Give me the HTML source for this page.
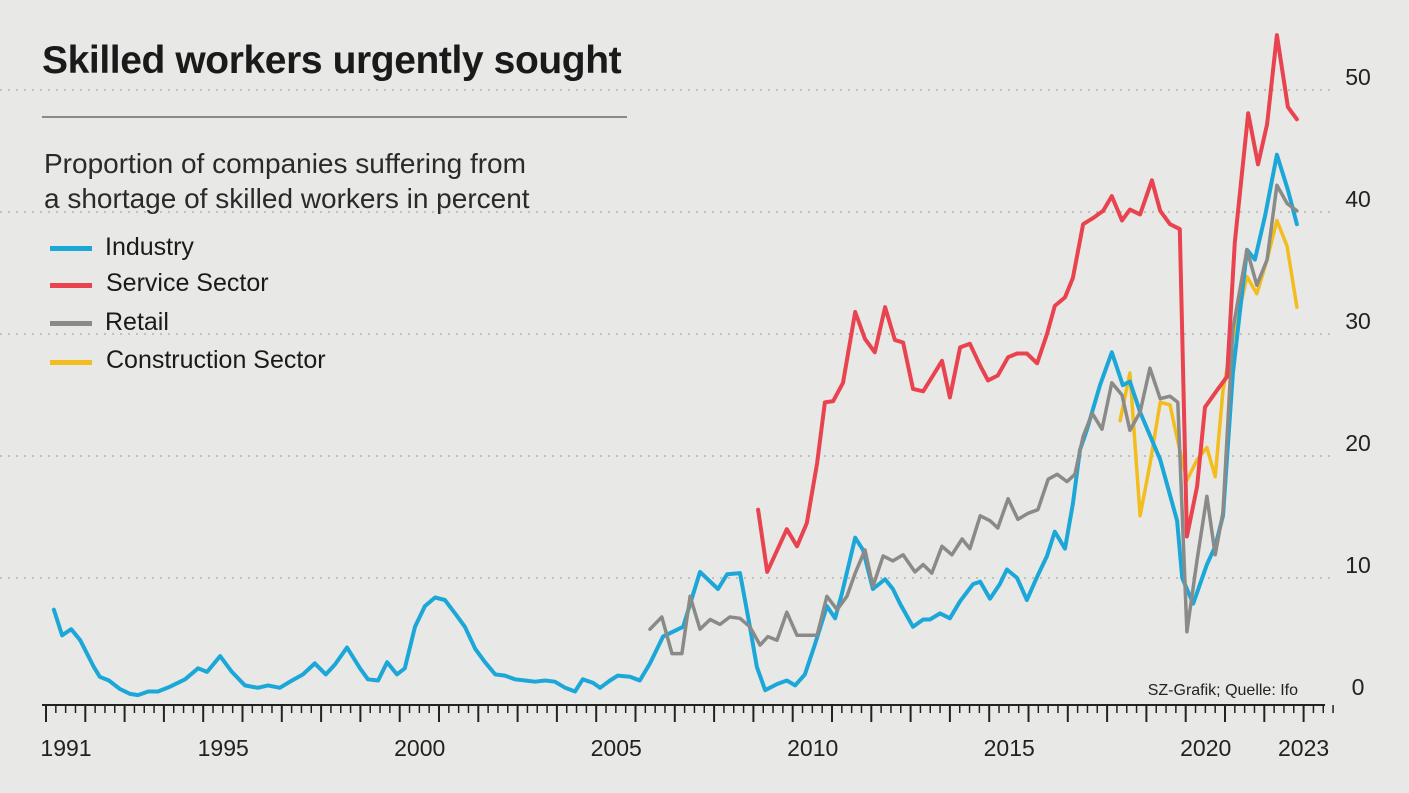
<!DOCTYPE html>
<html><head><meta charset="utf-8">
<style>
html,body{margin:0;padding:0;}
body{width:1409px;height:793px;background:#e8e8e6;overflow:hidden;position:relative;font-family:"Liberation Sans Narrow","Liberation Sans",sans-serif;color:#1a1a1a;}
.t{position:absolute;white-space:nowrap;}
svg{position:absolute;left:0;top:0;}
</style></head>
<body>
<div class="t" style="left:42px;top:39px;font-size:39px;font-weight:bold;letter-spacing:-0.4px;">Skilled workers urgently sought</div>
<div style="position:absolute;left:42px;top:116px;width:585px;height:2px;background:#8a8a8a;"></div>
<div class="t" style="left:44px;top:146px;font-size:28px;line-height:35px;color:#2a2a2a;">Proportion of companies suffering from<br>a shortage of skilled workers in percent</div>
<div>
<div><div style="position:absolute;left:50px;top:246px;width:42px;height:5px;background:#1ba7d8;"></div><div class="t" style="left:105px;top:233px;font-size:25px;">Industry</div></div>
<div><div style="position:absolute;left:50px;top:283px;width:42px;height:5px;background:#e8434f;"></div><div class="t" style="left:106px;top:269px;font-size:25px;">Service Sector</div></div>
<div><div style="position:absolute;left:50px;top:321px;width:42px;height:5px;background:#8a8a88;"></div><div class="t" style="left:105px;top:308px;font-size:25px;">Retail</div></div>
<div><div style="position:absolute;left:50px;top:360px;width:42px;height:5px;background:#f2bd1d;"></div><div class="t" style="left:106px;top:346px;font-size:25px;">Construction Sector</div></div>
</div>
<svg id="chart" width="1409" height="793"></svg>
<script>
const yTicks=[0,10,20,30,40,50];
const xLabels=[1991,1995,2000,2005,2010,2015,2020,2023];
const industryT=[1991.20,1991.41,1991.64,1991.87,1992.22,1992.37,1992.60,1992.88,1993.14,1993.34,1993.60,1993.85,1994.16,1994.54,1994.87,1995.10,1995.43,1995.73,1996.06,1996.39,1996.65,1996.95,1997.26,1997.54,1997.84,1998.12,1998.35,1998.66,1998.99,1999.19,1999.45,1999.68,1999.93,2000.13,2000.39,2000.64,2000.90,2001.15,2001.41,2001.66,2001.92,2002.17,2002.43,2002.68,2002.93,2003.19,2003.44,2003.70,2003.95,2004.21,2004.46,2004.66,2004.92,2005.10,2005.35,2005.55,2005.86,2006.11,2006.37,2006.70,2007.21,2007.64,2008.10,2008.33,2008.66,2008.91,2009.09,2009.30,2009.60,2009.85,2010.06,2010.31,2010.57,2010.87,2011.08,2011.25,2011.59,2011.79,2012.04,2012.35,2012.55,2012.73,2013.06,2013.32,2013.49,2013.75,2014.00,2014.26,2014.59,2014.77,2015.02,2015.27,2015.45,2015.71,2015.96,2016.22,2016.47,2016.67,2016.93,2017.13,2017.31,2017.49,2017.82,2018.12,2018.40,2018.58,2018.84,2019.35,2019.78,2019.91,2020.19,2020.54,2020.75,2020.95,2021.20,2021.56,2021.76,2022.02,2022.32,2022.60,2022.83];
const industryV=[7.4,5.3,5.8,4.9,2.7,1.9,1.6,0.9,0.5,0.4,0.7,0.7,1.1,1.7,2.6,2.3,3.6,2.3,1.2,1.0,1.2,1.0,1.6,2.1,3.0,2.1,2.9,4.3,2.6,1.7,1.6,3.1,2.1,2.6,6.0,7.7,8.4,8.2,7.1,6.0,4.2,3.1,2.1,2.0,1.7,1.6,1.5,1.6,1.5,1.0,0.7,1.7,1.4,1.0,1.6,2.0,1.9,1.6,3.0,5.2,6.0,10.5,9.1,10.3,10.4,6.0,2.7,0.8,1.3,1.6,1.2,2.1,4.6,7.7,6.7,8.7,13.3,12.3,9.1,9.9,9.1,7.9,6.0,6.6,6.6,7.1,6.7,8.1,9.5,9.7,8.3,9.5,10.7,10.0,8.2,10.1,11.8,13.8,12.4,16.1,20.5,22.2,25.8,28.5,25.8,26.1,23.6,19.7,14.7,10.0,7.9,11.1,12.6,15.1,26.8,36.9,36.1,39.7,44.7,41.8,39.0];
const serviceT=[2009.12,2009.35,2009.85,2010.11,2010.36,2010.62,2010.82,2011.03,2011.28,2011.59,2011.84,2012.09,2012.35,2012.60,2012.81,2013.06,2013.32,2013.57,2013.80,2014.00,2014.26,2014.51,2014.77,2014.97,2015.22,2015.48,2015.71,2015.96,2016.22,2016.47,2016.67,2016.93,2017.13,2017.39,2017.64,2017.90,2018.12,2018.38,2018.58,2018.84,2019.14,2019.35,2019.60,2019.85,2020.03,2020.29,2020.49,2020.80,2021.05,2021.25,2021.59,2021.84,2022.07,2022.32,2022.60,2022.83];
const serviceV=[15.6,10.5,14.0,12.6,14.5,19.4,24.4,24.5,26.0,31.8,29.6,28.5,32.2,29.5,29.3,25.5,25.3,26.6,27.8,24.8,28.9,29.2,27.4,26.2,26.6,28.1,28.4,28.4,27.6,30.0,32.3,33.0,34.6,39.0,39.5,40.1,41.3,39.3,40.2,39.8,42.6,40.1,39.0,38.6,13.4,17.5,24.0,25.4,26.5,37.5,48.1,43.9,47.2,54.5,48.6,47.6];
const retailT=[2006.37,2006.67,2006.93,2007.18,2007.39,2007.64,2007.90,2008.15,2008.40,2008.66,2008.91,2009.17,2009.37,2009.60,2009.85,2010.11,2010.36,2010.62,2010.87,2011.13,2011.38,2011.59,2011.84,2012.04,2012.30,2012.55,2012.81,2013.11,2013.32,2013.54,2013.80,2014.05,2014.31,2014.51,2014.77,2015.02,2015.22,2015.48,2015.73,2015.99,2016.24,2016.50,2016.73,2016.98,2017.18,2017.39,2017.62,2017.87,2018.12,2018.38,2018.58,2018.84,2019.09,2019.35,2019.60,2019.80,2020.03,2020.29,2020.54,2020.75,2020.95,2021.20,2021.56,2021.81,2022.07,2022.32,2022.58,2022.83];
const retailV=[5.8,6.8,3.8,3.8,8.5,5.8,6.6,6.2,6.8,6.7,6.0,4.5,5.2,4.9,7.2,5.3,5.3,5.3,8.5,7.4,8.5,10.4,12.3,9.3,11.8,11.4,11.9,10.5,11.1,10.4,12.6,11.9,13.2,12.4,15.1,14.7,14.1,16.5,14.8,15.3,15.6,18.1,18.5,17.9,18.5,21.6,23.5,22.2,26.0,25.0,22.1,23.6,27.2,24.7,24.9,24.4,5.6,11.5,16.7,11.9,15.4,30.4,36.9,34.0,36.1,42.2,40.7,40.1];
const constructionT=[2018.33,2018.58,2018.84,2019.09,2019.35,2019.60,2019.80,2020.03,2020.29,2020.54,2020.75,2020.95,2021.20,2021.56,2021.81,2022.07,2022.32,2022.58,2022.83];
const constructionV=[22.9,26.8,15.1,19.3,24.4,24.2,21.2,18.0,19.7,20.7,18.3,25.4,29.7,34.7,33.3,36.1,39.3,37.2,32.2];

const NS='http://www.w3.org/2000/svg';
const svg=document.getElementById('chart');
function x(t){return 46+(t-1991)*39.3;}
function y(v){return 700-v*12.2;}
function mk(tag,attrs){const e=document.createElementNS(NS,tag);for(const k in attrs)e.setAttribute(k,attrs[k]);svg.appendChild(e);return e;}

yTicks.forEach(v=>{
  if(v>0){
    const g=mk('line',{x1:0,x2:1330,y1:y(v),y2:y(v),stroke:'#a9a9a7','stroke-width':1.3,'stroke-dasharray':'2 6'});
    
    
  }
  const t=mk('text',{x:1358,y:y(v)-5,'text-anchor':'middle','font-size':23,fill:'#222','font-family':'"Liberation Sans Narrow","Liberation Sans",sans-serif'});
  t.textContent=v;
  
  
});

const ax=mk('line',{x1:42,x2:1325,y1:705,y2:705,stroke:'#222','stroke-width':2});


for(let yr=1991;yr<=2023;yr++){
  for(let q=0;q<4;q++){
    const t=yr+q/4;
    if(t>2023.76)continue;
    const tk=mk('line',{x1:x(t),x2:x(t),y1:705,y2:q===0?722:713,stroke:'#222','stroke-width':q===0?2:1.5});
    
    
  }
}
xLabels.forEach(yr=>{
  const t=mk('text',{x:x(yr)+(yr===2023?0:20),y:756,'text-anchor':'middle','font-size':23,fill:'#222','font-family':'"Liberation Sans Narrow","Liberation Sans",sans-serif'});
  t.textContent=yr;
  
  
});
const src=mk('text',{x:1298,y:695,'text-anchor':'end','font-size':16,fill:'#222','font-family':'"Liberation Sans Narrow","Liberation Sans",sans-serif'});
src.textContent='SZ-Grafik; Quelle: Ifo';



function line(T,V,color,name,w){
  const d=T.map((t,i)=>(i?'L':'M')+x(t).toFixed(1)+' '+y(V[i]).toFixed(1)).join(' ');
  const p=mk('path',{d:d,fill:'none',stroke:color,'stroke-width':w,'stroke-linejoin':'round','stroke-linecap':'round'});
  
  
}
line(constructionT,constructionV,'#f2bd1d','construction-line',3.5);
line(industryT,industryV,'#1ba7d8','industry-line',4);
line(retailT,retailV,'#8a8a88','retail-line',3.5);
line(serviceT,serviceV,'#e8434f','service-line',4);
</script>
</body></html>
